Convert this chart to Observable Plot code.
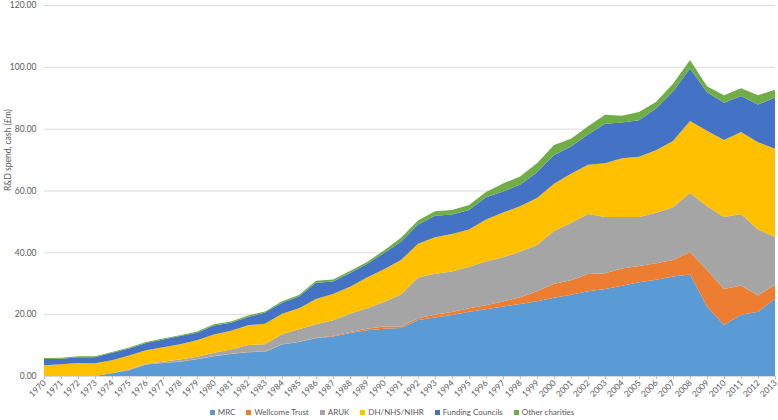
<!DOCTYPE html>
<html><head><meta charset="utf-8">
<script src="https://cdn.jsdelivr.net/npm/d3@7"></script>
<script src="https://cdn.jsdelivr.net/npm/@observablehq/plot@0.6"></script>
<style>
html,body{margin:0;padding:0;background:#fff;}
body{font-family:Lato,"Open Sans",sans-serif;width:778px;height:420px;overflow:hidden;}
#legend{display:flex;justify-content:center;align-items:center;height:16px;font-size:8px;color:#595959;margin-left:6px;padding-top:2px;}
#legend .item{display:flex;align-items:center;margin:0 5.5px;}
#legend .sw{width:5px;height:5px;margin-right:3px;display:inline-block;}
</style></head>
<body><div id="chart"></div><div id="legend"></div>
<script>
const years = [1970,1971,1972,1973,1974,1975,1976,1977,1978,1979,1980,1981,1982,1983,1984,1985,1986,1987,1988,1989,1990,1991,1992,1993,1994,1995,1996,1997,1998,1999,2000,2001,2002,2003,2004,2005,2006,2007,2008,2009,2010,2011,2012,2013];
const seriesNames = ["MRC","Wellcome Trust","ARUK","DH/NHS/NIHR","Funding Councils","Other charities"];
const colors = ["#5B9BD5","#ED7D31","#A5A5A5","#FFC000","#4472C4","#70AD47"];
const mrc = [0,0,0,0,0.9,1.9,3.7,4.2,4.6,5.4,6.4,7.1,7.7,7.8,10.2,11.0,12.2,12.8,13.9,14.8,15.3,15.5,18.1,18.9,19.7,20.8,21.6,22.5,23.3,24.2,25.3,26.3,27.4,28.1,29.2,30.3,31.1,32.2,32.8,22.5,16.5,19.8,20.8,25.0];
const wellcome = [0,0,0,0,0,0.1,0.1,0.1,0.1,0.1,0.1,0.1,0.1,0.1,0.1,0.1,0.1,0.2,0.3,0.5,0.7,0.5,0.6,0.9,1.0,1.1,1.3,1.6,2.2,3.2,4.5,4.7,5.6,5.1,5.6,5.3,5.4,5.3,7.3,11.8,11.6,9.5,5.2,4.5];
const aruk = [0,0,0,0,0,0.2,0.2,0.3,0.6,0.7,1.0,1.4,2.2,2.4,3.2,4.0,4.4,5.0,5.9,6.6,7.9,10.4,13.2,13.3,13.1,13.4,14.1,14.3,14.7,15.0,17.1,18.5,19.4,18.2,16.6,15.8,16.3,17.1,19.1,20.6,23.3,23.1,21.4,15.5];
const dh = [3.5,3.8,4.2,4.1,4.2,4.4,4.3,4.7,5.0,5.4,5.9,6.0,6.4,6.6,6.6,6.8,8.2,8.5,8.8,10.0,10.6,11.1,10.9,11.8,12.1,12.1,13.6,14.5,14.7,15.2,15.3,15.9,15.9,17.4,19.0,19.5,20.2,21.4,23.3,24.4,24.9,26.5,28.2,28.5];
const funding = [2.0,1.8,1.9,2.0,2.4,2.3,2.4,2.5,2.6,2.4,2.9,2.6,2.7,3.6,3.6,3.8,5.3,4.1,4.4,4.3,5.3,5.9,6.2,6.9,6.3,6.3,7.2,6.8,7.0,8.3,9.3,8.8,9.8,12.8,11.6,11.8,13.5,16.0,17.0,12.5,12.1,11.7,12.2,16.6];
const other = [0.3,0.3,0.3,0.3,0.3,0.3,0.3,0.3,0.3,0.4,0.4,0.4,0.5,0.4,0.5,0.5,0.6,0.6,0.7,0.7,0.8,1.3,1.3,1.5,1.5,1.6,1.7,2.6,2.6,2.9,3.2,2.5,2.7,2.9,2.2,2.7,2.1,2.5,2.7,1.9,2.4,2.5,3.0,2.5];
const yTicks = [0,20,40,60,80,100,120];
const yLabel = "R&D spend, cash (£m)";

const seriesValues = [mrc, wellcome, aruk, dh, funding, other];
const rows = [];
seriesNames.forEach((s, i) => years.forEach((yr, j) => rows.push({year: yr, series: s, value: seriesValues[i][j]})));

const chart = Plot.plot({
  width: 778, height: 402,
  marginLeft: 44, marginRight: 3, marginTop: 5, marginBottom: 26,
  style: {fontFamily: "Lato, 'Open Sans', sans-serif", fontSize: "8.5px", color: "#595959", background: "#fff"},
  x: {domain: [1970, 2013]},
  y: {domain: [0, 120]},
  color: {domain: seriesNames, range: colors},
  marks: [
    Plot.gridY(yTicks, {stroke: "#d9d9d9", strokeOpacity: 1}),
    Plot.areaY(rows, {x: "year", y: "value", z: "series", fill: "series", order: seriesNames}),
    Plot.axisX({ticks: years, tickFormat: d => String(d), tickRotate: -45, tickSize: 3, tickPadding: 2, stroke: "#bfbfbf", fill: "#595959", label: null}),
    Plot.axisY({ticks: yTicks, tickFormat: d3.format(".2f"), tickSize: 0, tickPadding: 8, fill: "#595959", label: null}),
    Plot.text([yLabel], {frameAnchor: "left", dx: -36, rotate: -90, fill: "#595959", fontSize: 8.5})
  ]
});
document.getElementById("chart").appendChild(chart);

const legend = document.getElementById("legend");
seriesNames.forEach((s, i) => {
  const it = document.createElement("span");
  it.className = "item";
  const sw = document.createElement("span");
  sw.className = "sw";
  sw.style.background = colors[i];
  const t = document.createElement("span");
  t.textContent = s;
  it.appendChild(sw); it.appendChild(t);
  legend.appendChild(it);
});
</script>
</body></html>
